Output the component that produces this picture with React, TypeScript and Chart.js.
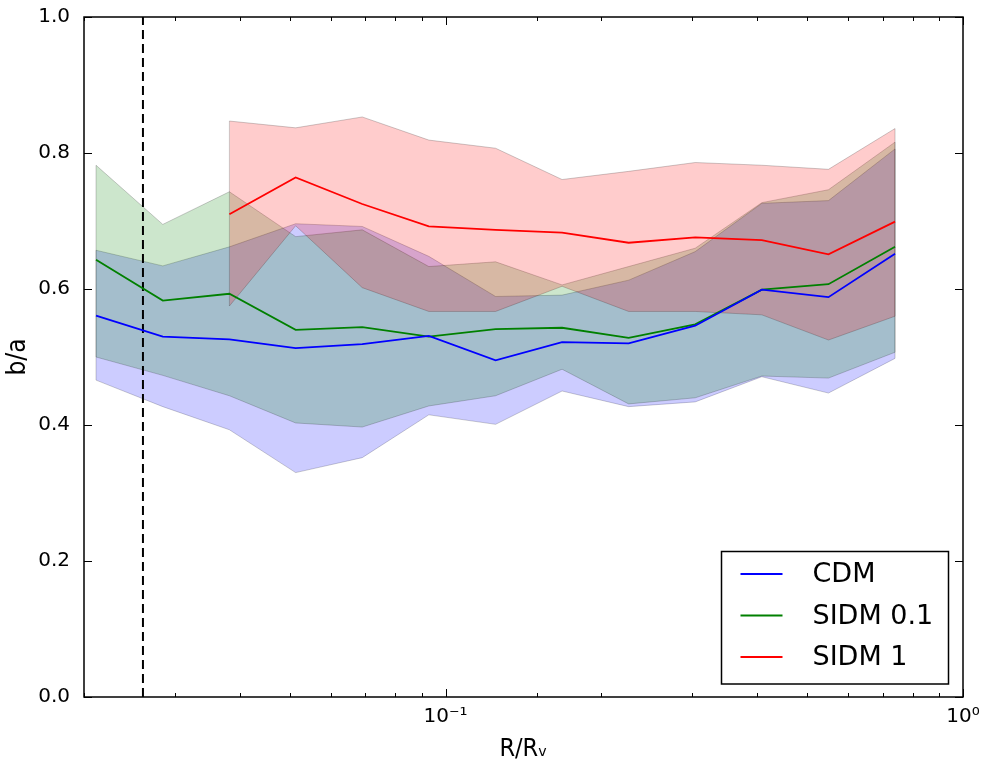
import React, { useEffect, useRef } from "react";
import { Chart, registerables } from "chart.js";

Chart.register(...registerables);

// Radial bins (R/Rv)
const radii = [0.0211, 0.0284, 0.0382, 0.0513, 0.069, 0.0928, 0.1249, 0.1679, 0.2258, 0.3037, 0.4085, 0.5495, 0.739];

// CDM
const cdmMedian = [0.561, 0.53, 0.526, 0.513, 0.519, 0.531, 0.495, 0.522, 0.52, 0.546, 0.599, 0.588, 0.652];
const cdmUpper = [0.657, 0.634, 0.662, 0.696, 0.692, 0.648, 0.589, 0.591, 0.613, 0.655, 0.726, 0.73, 0.806];
const cdmLower = [0.466, 0.427, 0.393, 0.33, 0.352, 0.415, 0.401, 0.45, 0.427, 0.434, 0.471, 0.447, 0.498];

// SIDM 0.1
const sidm01Median = [0.643, 0.583, 0.593, 0.54, 0.544, 0.53, 0.541, 0.543, 0.528, 0.548, 0.599, 0.607, 0.662];
const sidm01Upper = [0.782, 0.695, 0.743, 0.677, 0.687, 0.633, 0.64, 0.606, 0.633, 0.66, 0.727, 0.746, 0.816];
const sidm01Lower = [0.5, 0.473, 0.443, 0.403, 0.397, 0.428, 0.443, 0.482, 0.431, 0.44, 0.472, 0.469, 0.507];

// SIDM 1
const sidm1Median = [null, null, 0.71, 0.764, 0.725, 0.692, 0.687, 0.683, 0.668, 0.676, 0.672, 0.651, 0.699];
const sidm1Upper = [null, null, 0.847, 0.837, 0.853, 0.819, 0.807, 0.761, 0.773, 0.786, 0.782, 0.776, 0.836];
const sidm1Lower = [null, null, 0.575, 0.693, 0.602, 0.567, 0.567, 0.604, 0.567, 0.567, 0.562, 0.525, 0.56];

// Resolution limit (dashed line)
const resolutionLimit = 0.026;

const xRange = [0.02, 1];
const yRange = [0, 1];
const yTickStep = 0.2;

const seriesLabels = ["CDM", "SIDM 0.1", "SIDM 1"];
const seriesColors = ["#0000ff", "#008000", "#ff0000"];
const bandColors = ["rgba(0,0,255,0.2)", "rgba(0,128,0,0.2)", "rgba(255,0,0,0.2)"];

const TICK_FONT = "'DejaVu Sans', sans-serif";
const TITLE_FONT = "'DejaVu Sans Condensed', 'DejaVu Sans', sans-serif";

function pts(arr: (number | null)[]) {
  return radii
    .map((r, i) => ({ x: r, y: arr[i] }))
    .filter((p) => p.y !== null && p.y !== undefined) as { x: number; y: number }[];
}

const SUP: Record<string, string> = { "-": "⁻", "0": "⁰", "1": "¹", "2": "²", "3": "³" };
function powLabel(v: number) {
  const l = Math.log10(v);
  if (Math.abs(l - Math.round(l)) < 1e-9) {
    const e = String(Math.round(l));
    return "10" + e.split("").map((c) => SUP[c] || c).join("");
  }
  return "";
}

const bandEdgePlugin = {
  id: "bandEdges",
  afterDatasetDraw(chart: any, args: any) {
    const ds = chart.data.datasets[args.index];
    if (!ds.isBandUpper) return;
    const upper = args.meta.data;
    const lower = chart.getDatasetMeta(args.index + 1).data;
    if (!upper.length || !lower.length) return;
    const ctx = chart.ctx;
    ctx.save();
    ctx.strokeStyle = "rgba(0,0,0,0.2)";
    ctx.lineWidth = 1;
    ctx.beginPath();
    ctx.moveTo(upper[0].x, upper[0].y);
    ctx.lineTo(lower[0].x, lower[0].y);
    ctx.moveTo(upper[upper.length - 1].x, upper[upper.length - 1].y);
    ctx.lineTo(lower[lower.length - 1].x, lower[lower.length - 1].y);
    ctx.stroke();
    ctx.restore();
  },
};

const frameTicksPlugin = {
  id: "frameTicks",
  afterDraw(chart: any) {
    const ctx = chart.ctx;
    const { left, right, top, bottom } = chart.chartArea;
    const xs = chart.scales.x;
    const ys = chart.scales.y;
    ctx.save();
    ctx.strokeStyle = "#000";
    ctx.lineWidth = 1;
    ctx.beginPath();
    ys.ticks.forEach((t: any) => {
      const y = Math.round(ys.getPixelForValue(t.value)) + 0.5;
      ctx.moveTo(left, y);
      ctx.lineTo(left + 8, y);
      ctx.moveTo(right, y);
      ctx.lineTo(right - 8, y);
    });
    xs.ticks.forEach((t: any) => {
      const x = Math.round(xs.getPixelForValue(t.value)) + 0.5;
      const major = powLabel(t.value) !== "";
      const len = major ? 8 : 4;
      ctx.moveTo(x, bottom);
      ctx.lineTo(x, bottom - len);
      ctx.moveTo(x, top);
      ctx.lineTo(x, top + len);
    });
    ctx.stroke();
    ctx.lineWidth = 1.5;
    ctx.strokeRect(left, top, right - left, bottom - top);
    ctx.restore();
  },
};

const boxLegendPlugin = {
  id: "boxLegend",
  afterDraw(chart: any) {
    const ctx = chart.ctx;
    const { right, bottom } = chart.chartArea;
    const items = chart.data.datasets.filter((d: any) => d.inLegend);
    const boxW = 227;
    const rowH = 41.5;
    const boxH = 22.5 + rowH * (items.length - 1) + 27;
    const bx = right - 14.5 - boxW;
    const by = bottom - 13 - boxH;
    ctx.save();
    ctx.fillStyle = "#fff";
    ctx.fillRect(bx, by, boxW, boxH);
    ctx.strokeStyle = "#000";
    ctx.lineWidth = 1.5;
    ctx.strokeRect(bx, by, boxW, boxH);
    ctx.font = "27px " + TICK_FONT;
    ctx.textBaseline = "middle";
    ctx.textAlign = "left";
    items.forEach((d: any, i: number) => {
      const cy = by + 22.5 + i * rowH;
      ctx.strokeStyle = d.borderColor;
      ctx.lineWidth = 1.8;
      ctx.beginPath();
      ctx.moveTo(bx + 19, cy);
      ctx.lineTo(bx + 61, cy);
      ctx.stroke();
      ctx.fillStyle = "#000";
      ctx.fillText(d.label, bx + 91, cy + 1);
    });
    ctx.restore();
  },
};

export default function App() {
  const ref = useRef<HTMLCanvasElement | null>(null);

  useEffect(() => {
    if (!ref.current) return;
    const uppers = [cdmUpper, sidm01Upper, sidm1Upper];
    const lowers = [cdmLower, sidm01Lower, sidm1Lower];
    const medians = [cdmMedian, sidm01Median, sidm1Median];

    const datasets: any[] = [];
    medians.forEach((m, i) => {
      datasets.push({
        label: seriesLabels[i],
        data: pts(m),
        borderColor: seriesColors[i],
        backgroundColor: seriesColors[i],
        borderWidth: 1.8,
        pointRadius: 0,
        fill: false,
        tension: 0,
        order: 0,
        inLegend: true,
      });
    });
    datasets.push({
      label: "limit",
      data: [
        { x: resolutionLimit, y: yRange[0] },
        { x: resolutionLimit, y: yRange[1] },
      ],
      borderColor: "#000",
      borderWidth: 2,
      borderDash: [9, 5],
      pointRadius: 0,
      fill: false,
      order: 1,
    });
    uppers.forEach((u, i) => {
      datasets.push({
        label: seriesLabels[i] + " upper",
        data: pts(u),
        borderColor: "rgba(0,0,0,0.2)",
        backgroundColor: bandColors[i],
        borderWidth: 1,
        pointRadius: 0,
        fill: "+1",
        tension: 0,
        order: 30 - i * 10,
        isBandUpper: true,
      });
      datasets.push({
        label: seriesLabels[i] + " lower",
        data: pts(lowers[i]),
        borderColor: "rgba(0,0,0,0.2)",
        backgroundColor: "rgba(0,0,0,0)",
        borderWidth: 1,
        pointRadius: 0,
        fill: false,
        tension: 0,
        order: 30 - i * 10,
      });
    });

    const chart = new Chart(ref.current, {
      type: "line",
      data: { datasets },
      options: {
        animation: false,
        responsive: false,
        maintainAspectRatio: false,
        layout: { autoPadding: false, padding: { top: 17, right: 18, left: 0, bottom: 0 } },
        plugins: {
          legend: { display: false },
          tooltip: { enabled: false },
        },
        scales: {
          x: {
            type: "logarithmic",
            min: xRange[0],
            max: xRange[1],
            grid: { display: false, drawTicks: false },
            border: { display: false },
            ticks: {
              autoSkip: false,
              maxRotation: 0,
              minRotation: 0,
              padding: 8,
              color: "#000",
              font: { family: TICK_FONT, size: 20 },
              callback: (v: any) => powLabel(Number(v)),
            },
            title: {
              display: true,
              text: "R/Rᵥ",
              color: "#000",
              font: { family: TITLE_FONT, size: 25 },
              padding: { top: 0, bottom: 3 },
            },
            afterFit: (s: any) => {
              s.height = 70;
              s.paddingLeft = 0;
              s.paddingRight = 0;
            },
          },
          y: {
            type: "linear",
            min: yRange[0],
            max: yRange[1],
            grid: { display: false, drawTicks: false },
            border: { display: false },
            ticks: {
              stepSize: yTickStep,
              padding: 14,
              color: "#000",
              font: { family: TICK_FONT, size: 20 },
              callback: (v: any) => Number(v).toFixed(1),
            },
            title: {
              display: true,
              text: "b/a",
              color: "#000",
              font: { family: TITLE_FONT, size: 26 },
              padding: { top: 3, bottom: 0 },
            },
            afterFit: (s: any) => {
              s.width = 84;
              s.paddingTop = 0;
              s.paddingBottom = 0;
            },
          },
        },
      } as any,
      plugins: [bandEdgePlugin, frameTicksPlugin, boxLegendPlugin],
    });
    return () => chart.destroy();
  }, []);

  return (
    <div style={{ position: "fixed", left: 0, top: 0, width: 981, height: 767, background: "#fff" }}>
      <canvas ref={ref} width={981} height={767} style={{ display: "block" }} />
    </div>
  );
}
